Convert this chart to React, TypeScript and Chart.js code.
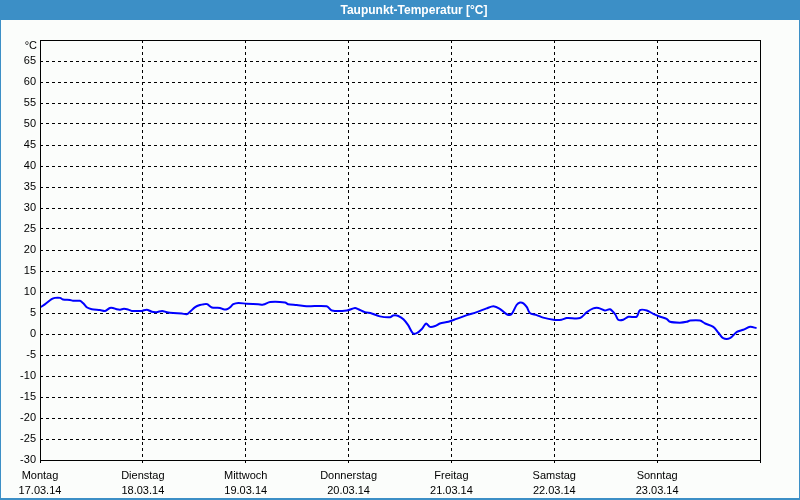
import React, { useEffect, useRef } from "react";
import { Chart, registerables } from "chart.js";

Chart.register(...registerables);

const TITLE = "Taupunkt-Temperatur [°C]";
const DAY_NAMES = ["Montag", "Dienstag", "Mittwoch", "Donnerstag", "Freitag", "Samstag", "Sonntag"];
const DAY_DATES = ["17.03.14", "18.03.14", "19.03.14", "20.03.14", "21.03.14", "22.03.14", "23.03.14"];
const Y_UNIT = "°C";

// time in hours since Montag 17.03.14 00:00
const hours = [
  0, 1.2, 2.7, 3.5, 4.7, 5.4, 7, 7.7, 9.3, 10.1, 11, 12.1, 14, 15.2, 16.3, 17, 17.9, 18.7, 19.6, 20.6,
  21.4, 23.7, 24.9, 26.1, 27.2, 28.5, 29.6, 31.1, 33.1, 34.2, 35, 36.2, 37.3, 38.3, 39, 40.1, 42, 42.8,
  43.6, 44.3, 45.1, 46.3, 48.2, 50.9, 52.1, 53.7, 57.2, 57.9, 59.9, 62.2, 66.9, 68.1, 71.6, 73.5, 74.3,
  75.8, 77.4, 79.3, 81.7, 82.4, 83.6, 84.8, 85.9, 87, 87.9, 89.1, 90.1, 91, 92.2, 93.3, 95.3, 97.2,
  99.6, 101.9, 104.2, 105.8, 107.3, 108.9, 110, 111.2, 112, 112.8, 113.6, 114.3, 115.9, 117.4, 119.8,
  121.7, 122.9, 126, 127.6, 129.1, 130.3, 131.8, 133, 134.2, 134.9, 136.1, 137.3, 139.2, 140, 141.6,
  143.1, 144.7, 146.2, 147, 149.3, 150.9, 151.7, 154, 155.2, 157.1, 158.3, 159.4, 161, 162.6, 164.1,
  165.7, 167.2,
];
const dewPoint = [
  6.3, 7.1, 8.3, 8.6, 8.6, 8.2, 8.1, 7.9, 7.9, 7.3, 6.3, 5.9, 5.7, 5.5, 6.2, 6.2, 5.9, 5.8, 6.0, 5.8,
  5.5, 5.5, 5.8, 5.3, 5.2, 5.5, 5.2, 5.0, 4.9, 4.7, 5.3, 6.4, 6.9, 7.1, 7.1, 6.3, 6.2, 5.9,
  5.9, 6.3, 7.1, 7.4, 7.2, 7.1, 7.0, 7.6, 7.5, 7.1, 6.9, 6.6, 6.6, 5.6, 5.6, 6.2, 5.9,
  5.2, 4.9, 4.2, 4.0, 4.4, 4.3, 3.5, 2.1, 0.2, 0.2, 1.2, 2.5, 1.7, 1.9, 2.5, 2.9, 3.6,
  4.5, 5.2, 6.1, 6.6, 6.0, 4.7, 4.7, 6.9, 7.5, 7.3, 6.4, 5.0, 4.5, 3.9, 3.4,
  3.4, 3.8, 3.8, 5.2, 6.1, 6.2, 5.6, 5.9, 4.7, 3.4, 3.4, 4.1, 4.1, 5.7, 5.6,
  4.8, 4.1, 3.6, 2.9, 2.7, 2.9, 3.2, 3.2, 2.5, 1.7, 0.3, -1.0, -1.0, 0.5, 1.0,
  1.7, 1.4,
];

const Y_MIN = -30;
const Y_MAX = 70;
const X_MAX = 168;

const FONT = '"Liberation Sans", Arial, sans-serif';

const framePlugin = {
  id: "frame",
  beforeDraw(chart: any) {
    const { ctx, width, height } = chart;
    ctx.save();
    ctx.fillStyle = "#fbfdfb";
    ctx.fillRect(0, 0, width, height);
    ctx.fillStyle = "#3c8fc6";
    ctx.fillRect(0, 0, width, 20);
    ctx.fillRect(0, 0, 1, height);
    ctx.fillRect(width - 1, 0, 1, height);
    ctx.fillRect(0, height - 2, width, 2);
    ctx.fillStyle = "#ffffff";
    ctx.font = "bold 12px " + FONT;
    ctx.textAlign = "center";
    ctx.textBaseline = "middle";
    ctx.fillText(TITLE, 414, 11);
    ctx.restore();
  },
  afterDraw(chart: any) {
    const { ctx, chartArea } = chart;
    ctx.save();
    ctx.strokeStyle = "#000000";
    ctx.lineWidth = 1;
    ctx.setLineDash([]);
    ctx.strokeRect(
      Math.round(chartArea.left) + 0.5,
      Math.round(chartArea.top) + 0.5,
      Math.round(chartArea.right - chartArea.left),
      Math.round(chartArea.bottom - chartArea.top)
    );
    ctx.fillStyle = "#000000";
    ctx.font = "11px " + FONT;
    ctx.textAlign = "right";
    ctx.textBaseline = "middle";
    ctx.fillText(Y_UNIT, chartArea.left - 3, chartArea.top + 6);
    ctx.restore();
  },
};

export default function App() {
  const ref = useRef<HTMLCanvasElement | null>(null);
  useEffect(() => {
    document.body.style.margin = "0";
    const canvas = ref.current;
    if (!canvas) return;
    const points = hours.map((h, i) => ({ x: h, y: dewPoint[i] }));
    const chart = new Chart(canvas, {
      type: "line",
      data: {
        datasets: [
          {
            data: points,
            borderColor: "#0000ff",
            borderWidth: 2,
            pointRadius: 0,
            tension: 0.3,
            fill: false,
          },
        ],
      },
      options: {
        responsive: false,
        animation: false,
        layout: { padding: { top: 40, right: 40, left: 0, bottom: 0 } },
        plugins: { legend: { display: false }, tooltip: { enabled: false }, title: { display: false } },
        scales: {
          x: {
            type: "linear",
            min: 0,
            max: X_MAX,
            afterFit: (s: any) => {
              s.height = 40;
            },
            ticks: {
              stepSize: 24,
              autoSkip: false,
              maxRotation: 0,
              padding: 5,
              color: "#000000",
              font: { family: FONT, size: 11, lineHeight: "15px" } as any,
              callback: (v: any) => {
                const i = Math.round(Number(v) / 24);
                if (i >= 0 && i < DAY_NAMES.length) return [DAY_NAMES[i], DAY_DATES[i]];
                return "";
              },
            },
            grid: {
              color: "#000000",
              lineWidth: 1,
              drawTicks: true,
              tickLength: 3,
              tickBorderDash: [],
            },
            border: { display: false, dash: [3, 3] },
          },
          y: {
            type: "linear",
            min: Y_MIN,
            max: Y_MAX,
            afterFit: (s: any) => {
              s.width = 40;
            },
            ticks: {
              stepSize: 5,
              autoSkip: false,
              padding: 4,
              color: "#000000",
              font: { family: FONT, size: 11 },
              callback: (v: any) => (Number(v) === Y_MAX ? "" : String(v)),
            },
            grid: {
              color: "#000000",
              lineWidth: 1,
              drawTicks: false,
            },
            border: { display: false, dash: [3, 3] },
          },
        },
      },
      plugins: [framePlugin],
    });
    return () => chart.destroy();
  }, []);
  return <canvas ref={ref} width={800} height={500} style={{ display: "block" }} />;
}
